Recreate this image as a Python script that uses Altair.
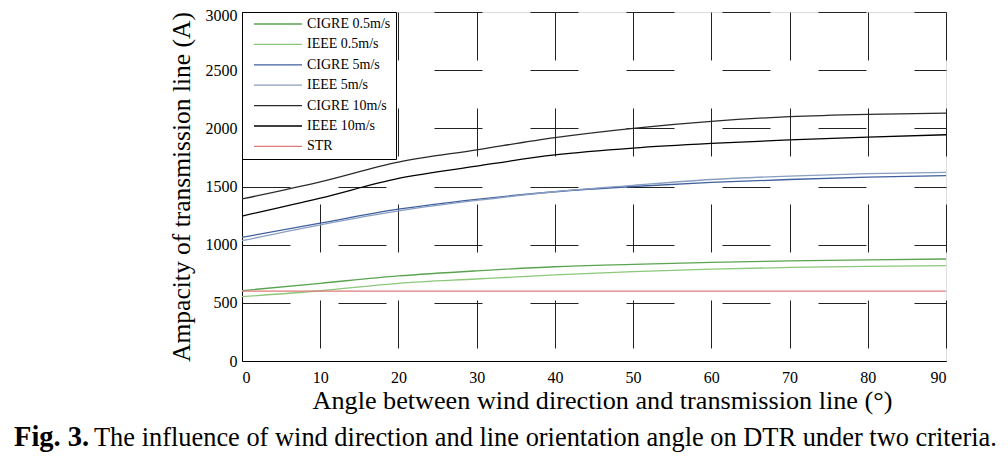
import altair as alt
import pandas as pd

angles = [0, 10, 20, 30, 40, 50, 60, 70, 80, 90]
cigre_05 = [605, 668, 731, 775, 810, 830, 847, 860, 870, 877]
ieee_05 = [553, 604, 668, 705, 740, 768, 790, 804, 813, 819]
cigre_5 = [1063, 1185, 1305, 1390, 1455, 1500, 1535, 1560, 1580, 1593]
ieee_5 = [1034, 1170, 1290, 1380, 1455, 1510, 1560, 1590, 1610, 1622]
cigre_10 = [1393, 1540, 1710, 1815, 1920, 2000, 2060, 2100, 2120, 2130]
ieee_10 = [1246, 1400, 1570, 1675, 1771, 1830, 1870, 1900, 1925, 1945]
str_vals = [600, 600, 600, 600, 600, 600, 600, 600, 600, 600]

names = ["CIGRE 0.5m/s", "IEEE 0.5m/s", "CIGRE 5m/s", "IEEE 5m/s",
         "CIGRE 10m/s", "IEEE 10m/s", "STR"]
series = [cigre_05, ieee_05, cigre_5, ieee_5, cigre_10, ieee_10, str_vals]
colors = ["#5aa450", "#8cc87a", "#3f5f9f", "#8a9ec2", "#2a2a2a", "#000000", "#e07a7a"]

x_ticks = [0, 10, 20, 30, 40, 50, 60, 70, 80, 90]
y_ticks = [0, 500, 1000, 1500, 2000, 2500, 3000]

rows = []
for n, vals in zip(names, series):
    for a, v in zip(angles, vals):
        rows.append({"angle": a, "amp": v, "series": n})
df = pd.DataFrame(rows)

FONT = "Liberation Serif"

lines = alt.Chart(df).mark_line(strokeWidth=1.3, interpolate="monotone").encode(
    x=alt.X("angle:Q",
            scale=alt.Scale(domain=[0, 90], nice=False),
            axis=alt.Axis(values=x_ticks, format="d",
                          title="Angle between wind direction and transmission line (°)",
                          grid=True, gridDash=[48, 48], gridColor="#222222", gridWidth=1,
                          ticks=False, labelPadding=8, labelFontSize=16, labelFont=FONT,
                          labelColor="black", domainColor="black",
                          titleFont=FONT, titleFontSize=26.2, titleFontWeight="normal",
                          titleColor="black", titlePadding=2, titleX=360)),
    y=alt.Y("amp:Q",
            scale=alt.Scale(domain=[0, 3000], nice=False),
            axis=alt.Axis(values=y_ticks, format="d",
                          title="Ampacity of transmission line (A)",
                          grid=True, gridDash=[48, 48], gridColor="#222222", gridWidth=1,
                          ticks=False, labelPadding=5, labelFontSize=16, labelFont=FONT,
                          labelColor="black", domainColor="black",
                          labelOffset=alt.expr("datum.value == 3000 ? 3 : 0"),
                          titleFont=FONT, titleFontSize=25.5, titleFontWeight="normal",
                          titleColor="black", titlePadding=11)),
    color=alt.Color("series:N",
                    scale=alt.Scale(domain=names, range=colors),
                    sort=names,
                    legend=alt.Legend(orient="none", legendX=0, legendY=0, title=None,
                                      symbolType="M-4.8,0H4.8", symbolSize=100,
                                      symbolOffset=24, labelOffset=22, padding=5,
                                      rowPadding=6.4, strokeColor="black", fillColor="white",
                                      labelFont=FONT, labelFontSize=14, labelColor="black",
                                      symbolStrokeWidth=1.3, cornerRadius=0)),
    detail="series:N",
)

cap_bold = alt.Chart(pd.DataFrame({"t": ["Fig. 3."]})).mark_text(
    align="left", baseline="alphabetic", font=FONT, fontSize=28.5, fontWeight="bold", color="black"
).encode(x=alt.value(-228), y=alt.value(434), text="t:N")

cap_text = alt.Chart(pd.DataFrame({"t": ["The influence of wind direction and line orientation angle on DTR under two criteria."]})).mark_text(
    align="left", baseline="alphabetic", font=FONT, fontSize=26.4, color="black"
).encode(x=alt.value(-148), y=alt.value(434), text="t:N")

chart = alt.layer(lines, cap_bold, cap_text).properties(
    width=704, height=349,
    autosize=alt.AutoSizeParams(type="none"),
    padding={"left": 234, "top": 4, "right": 54, "bottom": 96},
).configure_view(stroke="black", strokeWidth=1).configure_axis(
    labelFont=FONT, titleFont=FONT
).configure(background="white")

chart.save("out.html", embed_options={"renderer": "svg", "actions": False})
